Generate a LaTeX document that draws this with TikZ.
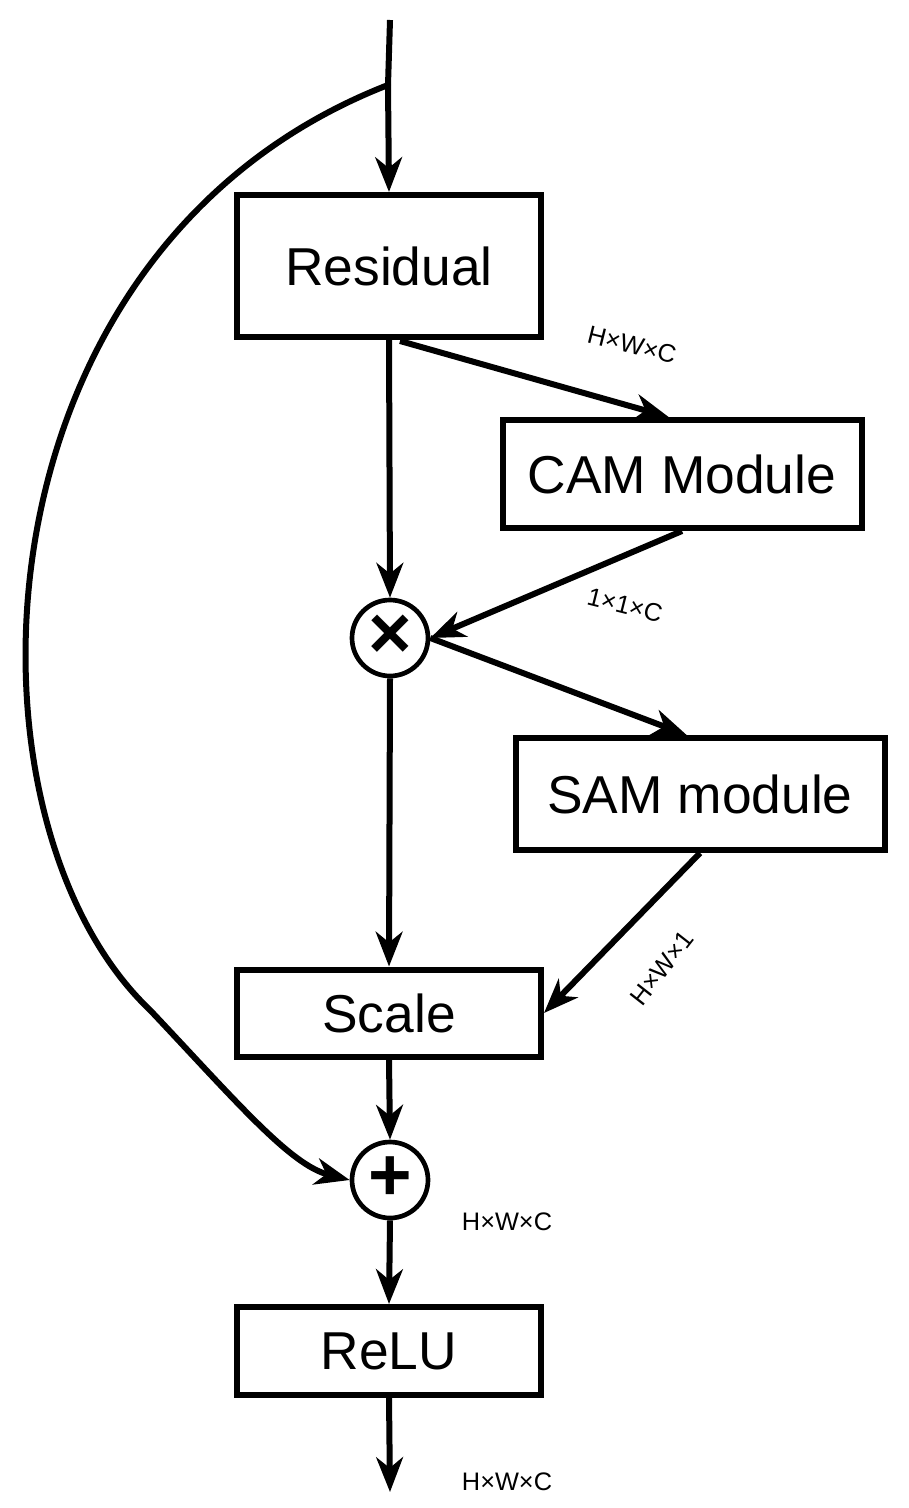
\documentclass[tikz,border=0pt]{standalone}
\usepackage{fontspec}
\setmainfont{Liberation Sans}
\usetikzlibrary{arrows.meta}
\begin{document}
\begin{tikzpicture}[x=0.75pt,y=-0.75pt,
  box/.style={draw,line width=4.5pt,minimum width=300*0.75pt,inner sep=0,font=\fontsize{40}{44}\selectfont},
  op/.style={draw,circle,line width=3.5pt,minimum size=76*0.75pt,inner sep=0,font=\fontsize{56}{56}\selectfont\bfseries},
  ar/.style={line width=4.5pt,-{Stealth[length=26pt,width=20pt,inset=8pt]}},
  lab/.style={font=\fontsize{19}{20}\selectfont}]
\useasboundingbox (0,0) rectangle (909,1508);
\node[box,minimum width=304*0.75pt,minimum height=142*0.75pt] (res) at (389,266) {Residual};
\node[box,minimum width=359*0.75pt,minimum height=108*0.75pt] (cam) at (682,474) {CAM Module};
\node[op] (mul) at (390,638) {\raisebox{2pt}{×}};
\node[box,minimum width=369*0.75pt,minimum height=112*0.75pt] (sam) at (700,794) {SAM module};
\node[box,minimum width=304*0.75pt,minimum height=87*0.75pt] (scale) at (389,1013) {Scale};
\node[op] (add) at (390,1180) {\raisebox{2pt}{+}};
\node[box,minimum width=304*0.75pt,minimum height=88*0.75pt] (relu) at (389,1351) {ReLU};
\coordinate (top) at (390,20);
\coordinate (split) at (388,85);
\coordinate (bot) at (390,1492);
\coordinate (resout) at (400,341);
\draw[line width=4.5pt] (top) -- (split);
\draw[ar] (split) -- (res.north);
\draw[ar] (split) .. controls (-35,250) and (-50,820) .. (150,1010) .. controls (235,1100) and (290,1165) .. (add.west);
\draw[ar] (resout) -- ([xshift=-10pt]cam.north);
\draw[ar] (res.south) -- (mul.north);
\draw[ar] (cam.south) -- (mul.east);
\draw[ar] (mul.east) -- ([xshift=-10pt]sam.north);
\draw[ar] (mul.south) -- (scale.north);
\draw[ar] (sam.south) -- (scale.east);
\draw[ar] (scale.south) -- (add.north);
\draw[ar] (add.south) -- (relu.north);
\draw[ar] (relu.south) -- (bot);
\node[lab,rotate=-14] (l1) at (632,345) {H×W×C};
\node[lab,rotate=-14] (l2) at (625,605) {1×1×C};
\node[lab,rotate=52] (l3) at (662,968) {H×W×1};
\node[lab] (l4) at (507,1222) {H×W×C};
\node[lab] (l5) at (507,1482) {H×W×C};
\end{tikzpicture}
\end{document}
